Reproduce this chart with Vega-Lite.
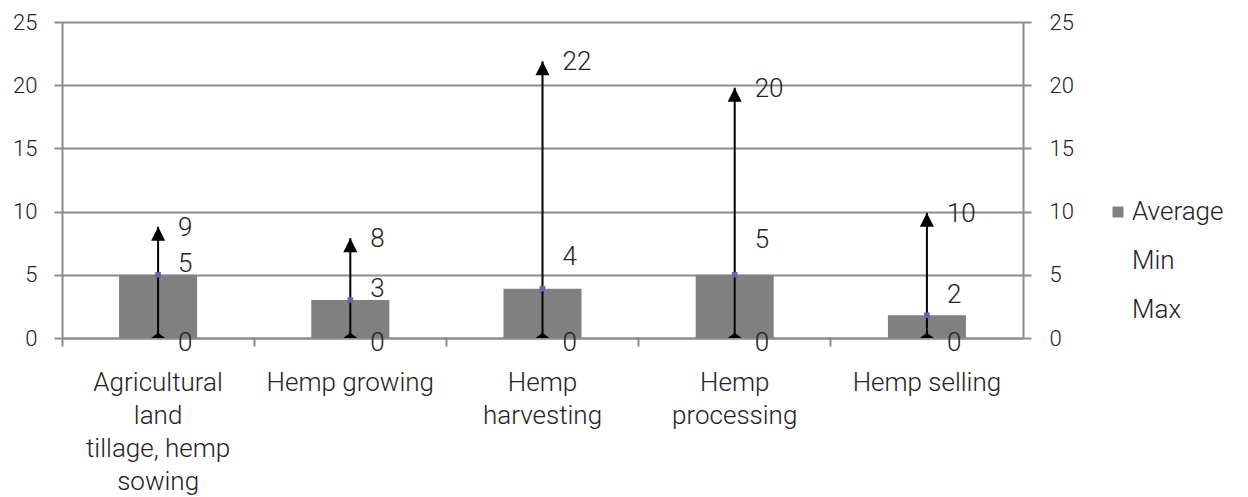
{
  "$schema": "https://vega.github.io/schema/vega-lite/v6.json",
  "autosize": "none",
  "width": 961,
  "height": 316,
  "padding": {"left": 62, "top": 22, "right": 225, "bottom": 159},
  "background": "white",
  "config": {
    "view": {"stroke": null},
    "font": "Roboto",
    "axis": {"labelFont": "Roboto", "labelFontWeight": 300, "labelColor": "#222222", "labelFontSize": 22, "domainColor": "#8c8c8c", "tickColor": "#8c8c8c", "gridColor": "#8c8c8c", "domainWidth": 2, "tickWidth": 2, "gridWidth": 2},
    "legend": {"labelFont": "Roboto", "labelFontWeight": 300, "labelFontSize": 26, "labelColor": "#222222"},
    "text": {"align": "left", "baseline": "middle", "dx": 20, "fontSize": 26, "fontWeight": 300, "font": "Roboto", "color": "#222222"}
  },
  "data": {
    "values": [
      {"category": "Agricultural|land|tillage, hemp|sowing", "series": "Average", "avg": 5, "min": 0, "max": 8.8},
      {"category": "Hemp growing", "series": "Average", "avg": 3, "min": 0, "max": 7.9},
      {"category": "Hemp|harvesting", "series": "Average", "avg": 3.9, "min": 0, "max": 21.9},
      {"category": "Hemp|processing", "series": "Average", "avg": 5, "min": 0, "max": 19.8},
      {"category": "Hemp selling", "series": "Average", "avg": 1.8, "min": 0, "max": 9.9}
    ]
  },
  "encoding": {
    "x": {"field": "category", "type": "nominal", "sort": null,
          "scale": {"paddingInner": 0, "paddingOuter": 0},
          "axis": {"title": null, "labelAngle": 0, "labelExpr": "split(datum.label, '|')", "labelFontSize": 26, "labelLineHeight": 33, "labelPadding": 23, "tickSize": 8, "bandPosition": 0, "labelBaseline": "top", "grid": false, "domain": true}}
  },
  "resolve": {"axis": {"y": "independent"}},
  "layer": [
    {
      "mark": {"type": "bar", "width": {"band": 0.406}},
      "encoding": {
        "y": {"field": "avg", "type": "quantitative", "scale": {"domain": [0, 25], "nice": false},
              "axis": {"title": null, "orient": "left", "values": [0, 5, 10, 15, 20, 25], "tickSize": 8, "labelPadding": 17, "grid": true, "domain": true}},
        "color": {"field": "series", "type": "nominal",
                  "scale": {"domain": ["Average", "Min", "Max"], "range": ["#808080", "rgba(0,0,0,0)", "rgba(0,0,0,0)"]},
                  "legend": {"title": null, "orient": "none", "legendX": 1043, "legendY": 177, "symbolType": "square", "symbolSize": 121, "symbolStrokeWidth": 0, "rowPadding": 23, "labelOffset": 1, "padding": 0}}
      }
    },
    {
      "mark": {"type": "rule", "color": "black", "strokeWidth": 2},
      "encoding": {
        "y": {"field": "min", "type": "quantitative",
              "axis": {"title": null, "orient": "right", "values": [0, 5, 10, 15, 20, 25], "tickSize": 8, "labelPadding": 18, "grid": false, "domain": true}},
        "y2": {"field": "max"}
      }
    },
    {
      "mark": {"type": "point", "shape": "M-1,2L1,2L0,0Z", "filled": true, "color": "black", "size": 196, "opacity": 1},
      "encoding": {"y": {"field": "max", "type": "quantitative", "axis": null}}
    },
    {
      "mark": {"type": "point", "shape": "M-1,0L1,0L0,-0.75Z", "filled": true, "color": "black", "size": 196, "opacity": 1},
      "encoding": {"y": {"field": "min", "type": "quantitative", "axis": null}}
    },
    {
      "mark": {"type": "point", "shape": "square", "filled": true, "color": "#7b5ea8", "size": 32, "opacity": 1},
      "encoding": {"y": {"field": "avg", "type": "quantitative", "axis": null}}
    },
    {
      "mark": {"type": "text", "dy": 1},
      "encoding": {"y": {"field": "max", "type": "quantitative", "axis": null}, "text": {"field": "max", "type": "quantitative", "format": ".0f"}}
    },
    {
      "transform": [{"filter": "datum.category == 'Agricultural|land|tillage, hemp|sowing' || datum.category == 'Hemp growing'"}],
      "mark": {"type": "text", "dy": -11},
      "encoding": {"y": {"field": "avg", "type": "quantitative", "axis": null}, "text": {"field": "avg", "type": "quantitative", "format": ".0f"}}
    },
    {
      "transform": [{"filter": "datum.category == 'Hemp|harvesting'"}],
      "mark": {"type": "text", "dy": -32},
      "encoding": {"y": {"field": "avg", "type": "quantitative", "axis": null}, "text": {"field": "avg", "type": "quantitative", "format": ".0f"}}
    },
    {
      "transform": [{"filter": "datum.category == 'Hemp|processing'"}],
      "mark": {"type": "text", "dy": -35},
      "encoding": {"y": {"field": "avg", "type": "quantitative", "axis": null}, "text": {"field": "avg", "type": "quantitative", "format": ".0f"}}
    },
    {
      "transform": [{"filter": "datum.category == 'Hemp selling'"}],
      "mark": {"type": "text", "dy": -20},
      "encoding": {"y": {"field": "avg", "type": "quantitative", "axis": null}, "text": {"field": "avg", "type": "quantitative", "format": ".0f"}}
    },
    {
      "mark": {"type": "text", "dy": 5},
      "encoding": {"y": {"field": "min", "type": "quantitative", "axis": null}, "text": {"field": "min", "type": "quantitative", "format": ".0f"}}
    }
  ]
}
